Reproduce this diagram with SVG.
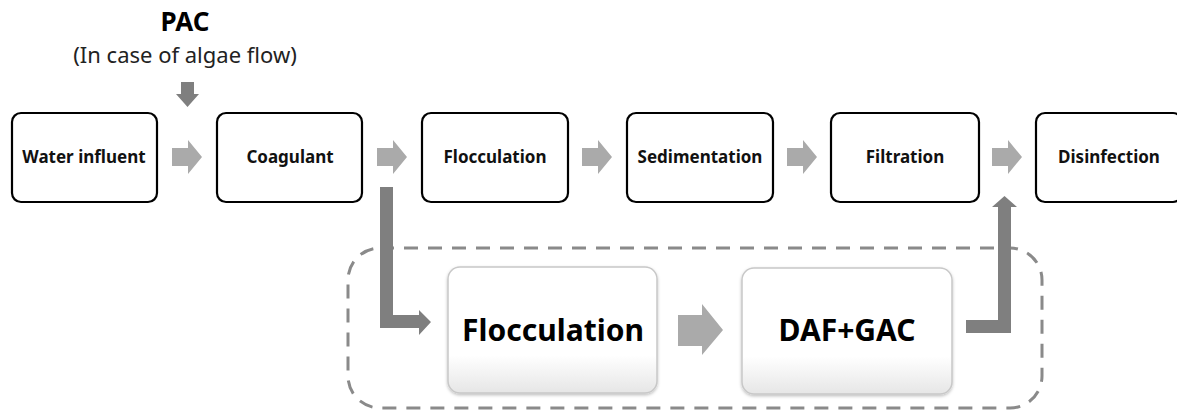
<svg xmlns="http://www.w3.org/2000/svg" width="1177" height="410" viewBox="0 0 1177 410">
<defs>
<style>
.box{fill:#fff;stroke:#000;stroke-width:2.2}
.lbl{font-family:"Noto Sans","Open Sans",sans-serif;font-weight:bold;font-size:17px;fill:#111;text-anchor:middle}
.big{font-family:"Noto Sans","Open Sans",sans-serif;font-weight:bold;font-size:30px;fill:#000;text-anchor:middle}
.la{fill:#aaaaaa}
.da{fill:#7f7f7f}
.gbox{fill:url(#gloss);stroke:#c8c8c8;stroke-width:1.5}
</style>
<linearGradient id="gloss" x1="0" y1="0" x2="0" y2="1">
<stop offset="0" stop-color="#ffffff"/>
<stop offset="0.7" stop-color="#ffffff"/>
<stop offset="1" stop-color="#e6e6e6"/>
</linearGradient>
<filter id="sh" x="-10%" y="-10%" width="120%" height="130%">
<feDropShadow dx="0" dy="1.5" stdDeviation="1.5" flood-color="#000" flood-opacity="0.25"/>
</filter>
</defs>
<rect width="1177" height="410" fill="#fff"/>

<g id="pac">
<text x="185" y="31" font-family="'Noto Sans','Open Sans',sans-serif" font-weight="bold" font-size="26" text-anchor="middle" fill="#000">PAC</text>
<text x="185" y="63" font-family="'Noto Sans','Open Sans',sans-serif" font-size="22" text-anchor="middle" fill="#222">(In case of algae flow)</text>
</g>

<g id="n1"><rect class="box" x="12" y="113" width="145" height="89" rx="9"/><text class="lbl" x="84" y="163">Water influent</text></g>
<g id="n2"><rect class="box" x="217" y="113" width="145" height="89" rx="9"/><text class="lbl" x="290" y="163">Coagulant</text></g>
<g id="n3"><rect class="box" x="422" y="113" width="146" height="89" rx="9"/><text class="lbl" x="495" y="163">Flocculation</text></g>
<g id="n4"><rect class="box" x="627" y="113" width="146" height="89" rx="9"/><text class="lbl" x="700" y="163">Sedimentation</text></g>
<g id="n5"><rect class="box" x="831" y="113" width="148" height="89" rx="9"/><text class="lbl" x="905" y="163">Filtration</text></g>
<g id="n6"><rect class="box" x="1036" y="113" width="146" height="89" rx="9"/><text class="lbl" x="1109" y="163">Disinfection</text></g>

<g id="group">
<rect x="348" y="248" width="694" height="160" rx="32" fill="none" stroke="#8a8a8a" stroke-width="3" stroke-dasharray="14 10"/>
</g>

<g id="n7"><rect class="gbox" x="448" y="267" width="209" height="126" rx="12" filter="url(#sh)"/><text class="big" x="553" y="341">Flocculation</text></g>
<g id="n8"><rect class="gbox" x="742" y="268" width="210" height="126" rx="12" filter="url(#sh)"/><text class="big" x="847" y="341">DAF+GAC</text></g>

<g id="connectors">
<path class="da" d="M181,82 H194 V94 H199 L187.5,107 L176,94 H181 Z"/>
<path class="la" d="M172,148 H188 V140 L202,157 L188,174 V166 H172 Z"/>
<path class="la" d="M377,148 H393 V140 L407,157 L393,174 V166 H377 Z"/>
<path class="la" d="M582,148 H598 V140 L612,157 L598,174 V166 H582 Z"/>
<path class="la" d="M787,148 H803 V140 L817,157 L803,174 V166 H787 Z"/>
<path class="la" d="M992,148 H1008 V140 L1022,157 L1008,174 V166 H992 Z"/>
<path class="da" d="M380,187 H393 V315 H419 V310 L431,322 L419,335 V328 H380 Z"/>
<path class="la" d="M678,315 H702 V304 L723,330 L702,355 V346 H678 Z"/>
<path class="da" d="M966,320 H998 V207 H992 L1004.5,196 L1017,207 H1011 V333 H966 Z"/>
</g>
</svg>
